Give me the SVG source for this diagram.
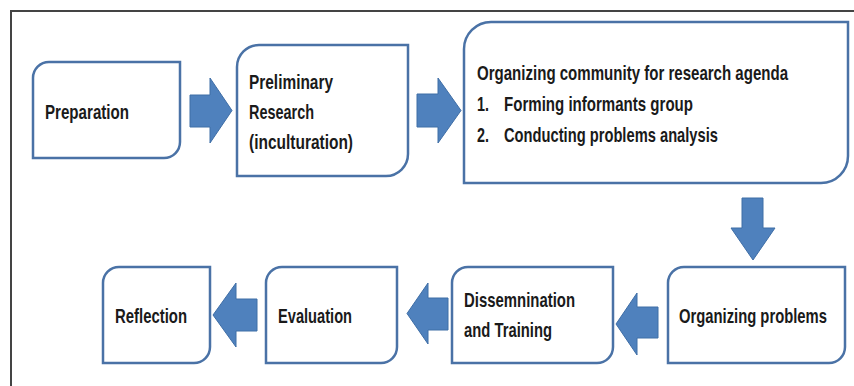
<svg xmlns="http://www.w3.org/2000/svg" width="854" height="386" viewBox="0 0 854 386">
<style>
.box{fill:#ffffff;stroke:#4a72a6;stroke-width:2.5}
.arr{fill:#4f81bd;stroke:#3f6ea6;stroke-width:1}
.t{font-family:"Liberation Sans",Arial,sans-serif;font-weight:bold;font-size:20px;fill:#1a1a1a}
.frame{fill:none;stroke:#444444;stroke-width:2}
</style>
<rect x="0" y="0" width="854" height="386" fill="#ffffff"/>
<path class="frame" d="M10,11 H854 M11,11 V386"/>
<g id="connectors">
<path class="arr" d="M190,95 H210 V78 L232,110.5 L210,143 V127 H190 Z"/>
<path class="arr" d="M417,94 H438 V78 L461,110.5 L438,143 V127 H417 Z"/>
<path class="arr" d="M742,198 H763 V228 H775 L753,260 L731,228 H742 Z"/>
<path class="arr" d="M658,307 H637 V293 L616,324 L637,355 V338 H658 Z"/>
<path class="arr" d="M448,298 H428 V283 L407,313.5 L428,344 V330 H448 Z"/>
<path class="arr" d="M257,299 H236 V283 L213,315 L236,347 V331 H257 Z"/>
</g>
<g id="preparation">
<path class="box" d="M49,62 H180 V142 A16,16 0 0 1 164,158 H33 V78 A16,16 0 0 1 49,62 Z"/>
<text class="t" transform="translate(45,119) scale(0.75,1)" textLength="112" lengthAdjust="spacingAndGlyphs">Preparation</text>
</g>
<g id="preliminary">
<path class="box" d="M259,45 H408 V154 A22,22 0 0 1 386,176 H237 V67 A22,22 0 0 1 259,45 Z"/>
<text class="t" transform="translate(249,89) scale(0.75,1)" textLength="112" lengthAdjust="spacingAndGlyphs">Preliminary</text>
<text class="t" transform="translate(249,119) scale(0.75,1)" textLength="86.7" lengthAdjust="spacingAndGlyphs">Research</text>
<text class="t" transform="translate(249,149) scale(0.75,1)" textLength="138.7" lengthAdjust="spacingAndGlyphs">(inculturation)</text>
</g>
<g id="organizing-community">
<path class="box" d="M491,22 H848 V156 A27,27 0 0 1 821,183 H464 V49 A27,27 0 0 1 491,22 Z"/>
<text class="t" transform="translate(477,80) scale(0.75,1)" textLength="414.7" lengthAdjust="spacingAndGlyphs">Organizing community for research agenda</text>
<text class="t" transform="translate(477,111) scale(0.75,1)" textLength="16" lengthAdjust="spacingAndGlyphs">1.</text>
<text class="t" transform="translate(504,111) scale(0.75,1)" textLength="252" lengthAdjust="spacingAndGlyphs">Forming informants group</text>
<text class="t" transform="translate(477,142) scale(0.75,1)" textLength="16" lengthAdjust="spacingAndGlyphs">2.</text>
<text class="t" transform="translate(504,142) scale(0.75,1)" textLength="285.3" lengthAdjust="spacingAndGlyphs">Conducting problems analysis</text>
</g>
<g id="organizing-problems">
<path class="box" d="M684,267 H845 V347 A16,16 0 0 1 829,363 H668 V283 A16,16 0 0 1 684,267 Z"/>
<text class="t" transform="translate(679,323) scale(0.75,1)" textLength="197.3" lengthAdjust="spacingAndGlyphs">Organizing problems</text>
</g>
<g id="dissemination">
<path class="box" d="M468,267 H613 V347 A16,16 0 0 1 597,363 H452 V283 A16,16 0 0 1 468,267 Z"/>
<text class="t" transform="translate(464,307) scale(0.75,1)" textLength="148" lengthAdjust="spacingAndGlyphs">Dissemnination</text>
<text class="t" transform="translate(464,337) scale(0.75,1)" textLength="117.3" lengthAdjust="spacingAndGlyphs">and Training</text>
</g>
<g id="evaluation">
<path class="box" d="M282,267 H397 V347 A16,16 0 0 1 381,363 H266 V283 A16,16 0 0 1 282,267 Z"/>
<text class="t" transform="translate(278,323) scale(0.75,1)" textLength="98.7" lengthAdjust="spacingAndGlyphs">Evaluation</text>
</g>
<g id="reflection">
<path class="box" d="M119,267 H210 V347 A16,16 0 0 1 194,363 H103 V283 A16,16 0 0 1 119,267 Z"/>
<text class="t" transform="translate(115,323) scale(0.75,1)" textLength="96" lengthAdjust="spacingAndGlyphs">Reflection</text>
</g>
</svg>
